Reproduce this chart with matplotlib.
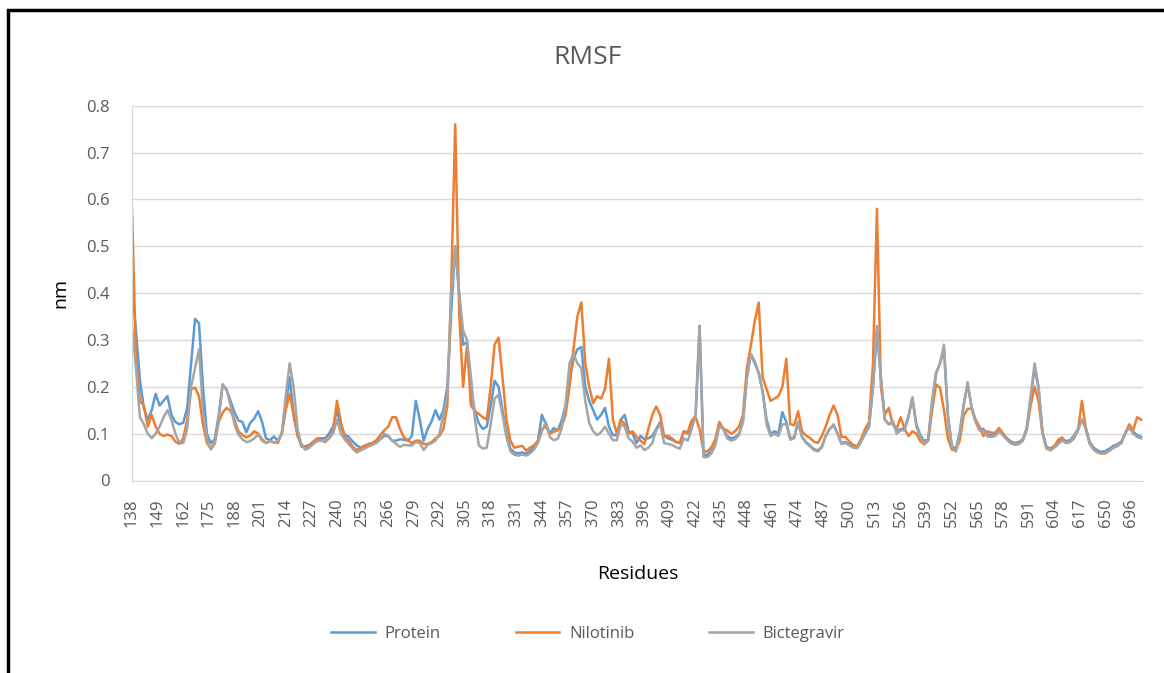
import matplotlib
matplotlib.use('Agg')
import matplotlib.pyplot as plt
from matplotlib.patches import Rectangle
import numpy as np

plt.rcParams['font.family'] = ['Open Sans', 'DejaVu Sans']

# category labels shown on the x axis (every 13th residue)
tick_labels = ['138', '149', '162', '175', '188', '201', '214', '227', '240', '253',
               '266', '279', '292', '305', '318', '331', '344', '357', '370', '383',
               '396', '409', '422', '435', '448', '461', '474', '487', '500', '513',
               '526', '539', '552', '565', '578', '591', '604', '617', '650', '696']

protein = [
    0.42, 0.32, 0.215, 0.155, 0.13, 0.15, 0.185, 0.16, 0.17, 0.18,
    0.14, 0.125, 0.12, 0.123, 0.155, 0.25, 0.345, 0.335, 0.2, 0.1,
    0.08, 0.088, 0.14, 0.205, 0.193, 0.17, 0.145, 0.128, 0.125, 0.103,
    0.123, 0.132, 0.148, 0.125, 0.09, 0.086, 0.094, 0.085, 0.1, 0.16,
    0.22, 0.14, 0.1, 0.072, 0.073, 0.076, 0.082, 0.09, 0.09, 0.09,
    0.1, 0.115, 0.15, 0.115, 0.098, 0.093, 0.083, 0.075, 0.07, 0.073,
    0.077, 0.08, 0.084, 0.088,
    0.095, 0.095, 0.085, 0.085, 0.088, 0.087, 0.085, 0.095, 0.17, 0.13,
    0.085, 0.11, 0.126, 0.15, 0.13, 0.15, 0.2, 0.36, 0.5, 0.4,
    0.29, 0.295, 0.19, 0.148, 0.122, 0.11, 0.115, 0.16, 0.213, 0.2,
    0.15, 0.1, 0.068, 0.06, 0.058, 0.06, 0.057, 0.063, 0.072, 0.085,
    0.14, 0.12, 0.1, 0.112, 0.107, 0.128, 0.16, 0.21, 0.26, 0.28,
    0.285, 0.2, 0.17, 0.15, 0.13, 0.14, 0.155, 0.115, 0.097, 0.097,
    0.13, 0.14, 0.105, 0.1, 0.08,
    0.095, 0.088, 0.09, 0.095, 0.11, 0.125, 0.095, 0.09, 0.087, 0.082,
    0.08, 0.105, 0.1, 0.125, 0.14, 0.33, 0.055, 0.055, 0.062, 0.08,
    0.12, 0.112, 0.095, 0.09, 0.092, 0.1, 0.125, 0.22, 0.27, 0.25,
    0.23, 0.19, 0.13, 0.1, 0.105, 0.1, 0.146, 0.125, 0.09, 0.092,
    0.125, 0.093, 0.082, 0.075, 0.067, 0.064, 0.072, 0.095, 0.11, 0.118,
    0.1, 0.08, 0.082, 0.077, 0.072, 0.07, 0.084, 0.1, 0.115, 0.2,
    0.32, 0.22, 0.13, 0.12, 0.125,
    0.104, 0.11, 0.11, 0.138, 0.175, 0.12, 0.097, 0.084, 0.088, 0.168,
    0.228, 0.25, 0.28, 0.14, 0.074, 0.066, 0.103, 0.162, 0.205, 0.158,
    0.128, 0.11, 0.11, 0.098, 0.096, 0.098, 0.108, 0.1, 0.09, 0.083,
    0.08, 0.082, 0.088, 0.112, 0.178, 0.24, 0.198, 0.104, 0.072, 0.068,
    0.074, 0.082, 0.088, 0.084, 0.086, 0.096, 0.11, 0.13, 0.112, 0.082,
    0.07, 0.064, 0.061, 0.063, 0.068, 0.074, 0.077, 0.083, 0.102, 0.115,
    0.104, 0.097, 0.093,
]

nilotinib = [
    0.58, 0.26, 0.17, 0.16, 0.115, 0.14, 0.115, 0.1, 0.095, 0.098,
    0.095, 0.083, 0.078, 0.09, 0.13, 0.195, 0.198, 0.18, 0.12, 0.08,
    0.068, 0.082, 0.125, 0.145, 0.155, 0.148, 0.13, 0.105, 0.097, 0.092,
    0.096, 0.105, 0.1, 0.088, 0.08, 0.084, 0.082, 0.08, 0.1, 0.15,
    0.185, 0.14, 0.095, 0.078, 0.066, 0.075, 0.083, 0.089, 0.086, 0.082,
    0.09, 0.105, 0.17, 0.125, 0.092, 0.085, 0.072, 0.065, 0.07, 0.074,
    0.078, 0.08, 0.086, 0.097,
    0.107, 0.115, 0.135, 0.135, 0.11, 0.092, 0.086, 0.08, 0.085, 0.085,
    0.078, 0.078, 0.082, 0.09, 0.095, 0.11, 0.16, 0.42, 0.76, 0.36,
    0.2, 0.29, 0.16, 0.148, 0.142, 0.135, 0.13, 0.2, 0.29, 0.305,
    0.22, 0.13, 0.085, 0.07, 0.072, 0.074, 0.064, 0.07, 0.075, 0.085,
    0.11, 0.115, 0.1, 0.104, 0.107, 0.115, 0.14, 0.2, 0.28, 0.35,
    0.38, 0.25, 0.2, 0.165, 0.18, 0.175, 0.195, 0.26, 0.13, 0.1,
    0.13, 0.12, 0.1, 0.105, 0.093,
    0.085, 0.078, 0.11, 0.14, 0.158, 0.14, 0.095, 0.095, 0.09, 0.083,
    0.08, 0.105, 0.103, 0.128, 0.135, 0.11, 0.062, 0.062, 0.071, 0.088,
    0.125, 0.11, 0.107, 0.1, 0.105, 0.115, 0.14, 0.24, 0.288, 0.34,
    0.38, 0.22, 0.195, 0.17, 0.175, 0.18, 0.2, 0.26, 0.12, 0.118,
    0.148, 0.105, 0.096, 0.091, 0.083, 0.08, 0.095, 0.115, 0.14, 0.16,
    0.14, 0.093, 0.093, 0.083, 0.076, 0.073, 0.089, 0.11, 0.125, 0.25,
    0.58, 0.2, 0.14, 0.155, 0.12,
    0.11, 0.135, 0.11, 0.095, 0.105, 0.1, 0.084, 0.077, 0.085, 0.15,
    0.205, 0.198, 0.15, 0.09, 0.066, 0.064, 0.085, 0.138, 0.153, 0.153,
    0.13, 0.115, 0.095, 0.105, 0.102, 0.102, 0.112, 0.1, 0.088, 0.08,
    0.078, 0.078, 0.085, 0.108, 0.16, 0.2, 0.17, 0.1, 0.07, 0.066,
    0.073, 0.087, 0.092, 0.08, 0.082, 0.09, 0.107, 0.17, 0.11, 0.078,
    0.066, 0.06, 0.057, 0.058, 0.064, 0.07, 0.075, 0.08, 0.1, 0.12,
    0.107, 0.135, 0.13,
]

bictegravir = [
    0.33, 0.24, 0.135, 0.12, 0.1, 0.09, 0.1, 0.115, 0.135, 0.15,
    0.13, 0.1, 0.08, 0.08, 0.11, 0.2, 0.24, 0.28, 0.15, 0.09,
    0.066, 0.078, 0.13, 0.205, 0.195, 0.16, 0.12, 0.098, 0.088, 0.082,
    0.084, 0.09, 0.098, 0.085, 0.08, 0.084, 0.081, 0.084, 0.1, 0.18,
    0.25, 0.2, 0.11, 0.075, 0.066, 0.07, 0.078, 0.084, 0.085, 0.085,
    0.09, 0.1, 0.13, 0.1, 0.087, 0.078, 0.068, 0.06, 0.064, 0.068,
    0.073, 0.076, 0.08, 0.088,
    0.1, 0.095, 0.085, 0.078, 0.072, 0.076, 0.075, 0.075, 0.082, 0.08,
    0.065, 0.076, 0.08, 0.085, 0.1, 0.14, 0.18, 0.4, 0.5, 0.4,
    0.32, 0.3, 0.22, 0.13, 0.075, 0.068, 0.07, 0.12, 0.175, 0.183,
    0.14, 0.093, 0.062, 0.055, 0.053, 0.056, 0.053, 0.058, 0.066, 0.08,
    0.105, 0.125, 0.093, 0.086, 0.089, 0.11, 0.16, 0.25, 0.27, 0.25,
    0.24, 0.17, 0.123, 0.105, 0.097, 0.103, 0.115, 0.1, 0.086, 0.086,
    0.12, 0.115, 0.09, 0.083, 0.07,
    0.075, 0.065, 0.07, 0.08, 0.107, 0.12, 0.08, 0.078, 0.076, 0.071,
    0.068, 0.09, 0.085, 0.11, 0.14, 0.33, 0.05, 0.05, 0.058, 0.075,
    0.115, 0.11, 0.09, 0.085, 0.088, 0.097, 0.125, 0.22, 0.27, 0.255,
    0.23, 0.19, 0.12, 0.095, 0.1, 0.095, 0.12, 0.12, 0.087, 0.09,
    0.125, 0.093, 0.08, 0.073, 0.065, 0.062, 0.07, 0.095, 0.11, 0.12,
    0.1, 0.078, 0.08, 0.075, 0.07, 0.069, 0.083, 0.1, 0.115, 0.2,
    0.33, 0.22, 0.13, 0.12, 0.128,
    0.1, 0.107, 0.107, 0.135, 0.178, 0.115, 0.093, 0.08, 0.085, 0.17,
    0.23, 0.25, 0.29, 0.135, 0.07, 0.062, 0.1, 0.16, 0.21, 0.155,
    0.125, 0.107, 0.107, 0.094, 0.093, 0.095, 0.105, 0.096, 0.087, 0.079,
    0.076, 0.078, 0.085, 0.11, 0.18, 0.25, 0.2, 0.1, 0.068, 0.064,
    0.07, 0.078, 0.085, 0.08, 0.083, 0.093, 0.107, 0.13, 0.11, 0.078,
    0.066, 0.06, 0.057, 0.059, 0.064, 0.07, 0.073, 0.08, 0.1, 0.113,
    0.1, 0.093, 0.09,
]

text_col = '#595959'
grid_col = '#d9d9d9'

fig = plt.figure(figsize=(11.64, 6.73), dpi=100)
ax = fig.add_axes([132 / 1164, 1 - 480.5 / 673, 1011 / 1164, 374.8 / 673])

pos = np.arange(len(protein)) * 2  # category index of each sampled residue
ax.plot(pos, protein, color='#5B9BD5', lw=1.8, label='Protein')
ax.plot(pos, nilotinib, color='#ED7D31', lw=1.8, label='Nilotinib')
ax.plot(pos, bictegravir, color='#A5A5A5', lw=1.8, label='Bictegravir')

ax.set_xlim(0, 513)
ax.set_ylim(0, 0.8)
ax.set_yticks(np.arange(0, 0.81, 0.1))
ax.set_yticklabels(['0', '0.1', '0.2', '0.3', '0.4', '0.5', '0.6', '0.7', '0.8'])
ax.set_xticks(np.arange(len(tick_labels)) * 13)
ax.set_xticklabels(tick_labels, rotation=90)
ax.tick_params(axis='y', length=0, pad=16, labelsize=12, labelcolor=text_col)
ax.tick_params(axis='x', length=0, pad=13, labelsize=12, labelcolor=text_col)
ax.grid(axis='y', color=grid_col, lw=1)
ax.set_axisbelow(True)
for s in ['top', 'right']:
    ax.spines[s].set_visible(False)
ax.spines['bottom'].set_color(grid_col)
ax.spines['left'].set_color(grid_col)

ax.set_ylabel('nm', fontsize=14, color='black', labelpad=12)
ax.set_xlabel('Residues', fontsize=14, color='black', labelpad=27)
fig.text(0.505, 1 - 57 / 673, 'RMSF', ha='center', va='center', fontsize=19, color=text_col)

fig.legend(loc='center', bbox_to_anchor=(588 / 1164, 1 - 634 / 673), ncol=3, frameon=False,
           fontsize=12, handlelength=2.6, handletextpad=0.6, columnspacing=4.5,
           labelcolor=text_col)

fig.patches.append(Rectangle((8 / 1164, -0.1), 1.2, 1.1 - 10 / 673, transform=fig.transFigure,
                             fill=False, edgecolor='black', lw=2.5))

fig.savefig('out.png', dpi=100)
